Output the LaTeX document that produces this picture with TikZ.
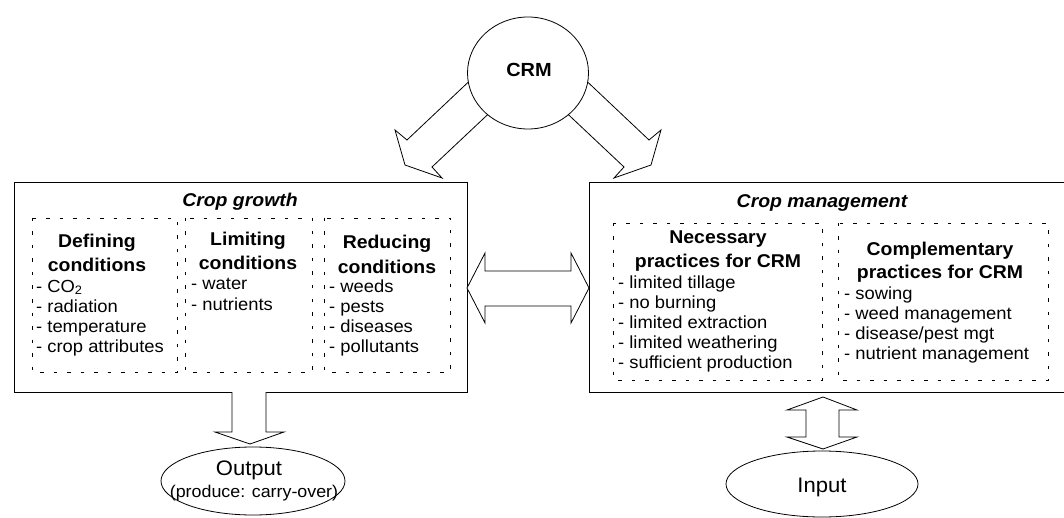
\documentclass[tikz,border=0pt]{standalone}
\usepackage{fontspec}
\setmainfont{Liberation Sans}[FakeStretch=1.05]
\usetikzlibrary{shapes.geometric}
\tikzset{
 ttl/.style={font=\fontsize{18.5}{20}\selectfont\bfseries\itshape, anchor=base, inner sep=0pt},
 hd/.style={font=\fontsize{18.5}{20}\selectfont\bfseries, anchor=base, inner sep=0pt},
 itm/.style={font=\fontsize{17.5}{20}\selectfont, anchor=base west, inner sep=0pt},
 frame/.style={draw, line width=1pt},
 dbox/.style={draw, line width=0.8pt, dash pattern=on 3.5pt off 10pt},
 blk/.style={draw, fill=white, line width=0.8pt, line join=miter},
 oval/.style={draw, ellipse, line width=0.8pt, inner sep=0pt},
}
\begin{document}
\begin{tikzpicture}[x=1pt,y=-1pt]
\useasboundingbox (0,0) rectangle (1064,518);
% big boxes
\node (cg) [frame, rectangle, minimum width=453pt, minimum height=209pt, inner sep=0pt] at (240.5,287.5) {};
\coordinate (cmtr) at (1070,183);
\coordinate (cmtl) at (589,183);
\coordinate (cmbl) at (589,392);
\coordinate (cmbr) at (1070,392);
\draw[frame] (cmtr) -- (cmtl) -- (cmbl) -- (cmbr);
% titles
\node (t1) [ttl] at (240,207) {Crop growth};
\node (t2) [ttl] at (822,208) {Crop management};
% dashed boxes left
\draw[dbox] (32,218) rectangle (177,372);
\draw[dbox] (185,218) rectangle (312,372);
\draw[dbox] (324,218) rectangle (450,372);
% dashed boxes right
\draw[dbox] (613,223) rectangle (822,380);
\draw[dbox] (838,223) rectangle (1048,380);
% column 1
\node (h11) [hd] at (97,248) {Defining};
\node (h12) [hd] at (97,272) {conditions};
\foreach \t [count=\i] in {- CO\textsubscript{2}, - radiation, - temperature, - crop attributes}
  \node (a\i) [itm] at (36,272+\i*20) {\t};
% column 2
\node (h21) [hd] at (248,246) {Limiting};
\node (h22) [hd] at (248,270) {conditions};
\foreach \t [count=\i] in {- water, - nutrients}
  \node (b\i) [itm] at (191,270+\i*20) {\t};
% column 3
\node (h31) [hd] at (387,249) {Reducing};
\node (h32) [hd] at (387,273) {conditions};
\foreach \t [count=\i] in {- weeds, - pests, - diseases, - pollutants}
  \node (c\i) [itm] at (329,272+\i*20) {\t};
% right column 1
\node (h41) [hd] at (718,244) {Necessary};
\node (h42) [hd] at (718,268) {practices for CRM};
\foreach \t [count=\i] in {- limited tillage, - no burning, - limited extraction, - limited weathering, - sufficient production}
  \node (d\i) [itm] at (618,268+\i*20) {\t};
% right column 2
\node (h51) [hd] at (940,256) {Complementary};
\node (h52) [hd] at (940,279) {practices for CRM};
\foreach \t [count=\i] in {- sowing, - weed management, - disease/pest mgt, - nutrient management}
  \node (e\i) [itm] at (844,279+\i*20) {\t};
% arrows from CRM
\draw[blk] (497,55) -- (407,140) -- (395,130) -- (405,165) -- (442,178) -- (432,167) -- (517,87) -- cycle;
\draw[blk] (559,55) -- (649,140) -- (661,130) -- (651,165) -- (614,178) -- (624,167) -- (539,87) -- cycle;
\node (crm) [oval, fill=white, minimum width=121pt, minimum height=112pt] at (528,73) {};
\node (crmt) [font=\fontsize{19}{20}\selectfont\bfseries, inner sep=0pt] at (529,70) {CRM};
% double arrow between boxes
\draw[blk] (467,288) -- (485,253) -- (485,271) -- (571,271) -- (571,253) -- (589,288)
  -- (571,323) -- (571,306) -- (485,306) -- (485,323) -- cycle;
% output arrow
\draw[blk] (232,392) -- (232,432) -- (215,432) -- (250,444) -- (284,432) -- (266,432) -- (266,392);
\node (out) [oval, minimum width=184pt, minimum height=68pt] at (253,481) {};
\node (outt) [font=\fontsize{21}{24}\selectfont, anchor=base, inner sep=0pt] at (249,475) {Output};
\node (outs) [font=\fontsize{17}{20}\selectfont, anchor=base, inner sep=0pt] at (254,497) {(produce: carry-over)};
% input arrow
\draw[blk] (823,397) -- (857,410) -- (839,410) -- (839,437) -- (857,437) -- (823,449)
  -- (787,437) -- (806,437) -- (806,410) -- (787,410) -- cycle;
\node (in) [oval, minimum width=192pt, minimum height=66pt] at (822,484) {};
\node (int) [font=\fontsize{21}{24}\selectfont, inner sep=0pt] at (822,487) {Input};
\end{tikzpicture}
\end{document}
